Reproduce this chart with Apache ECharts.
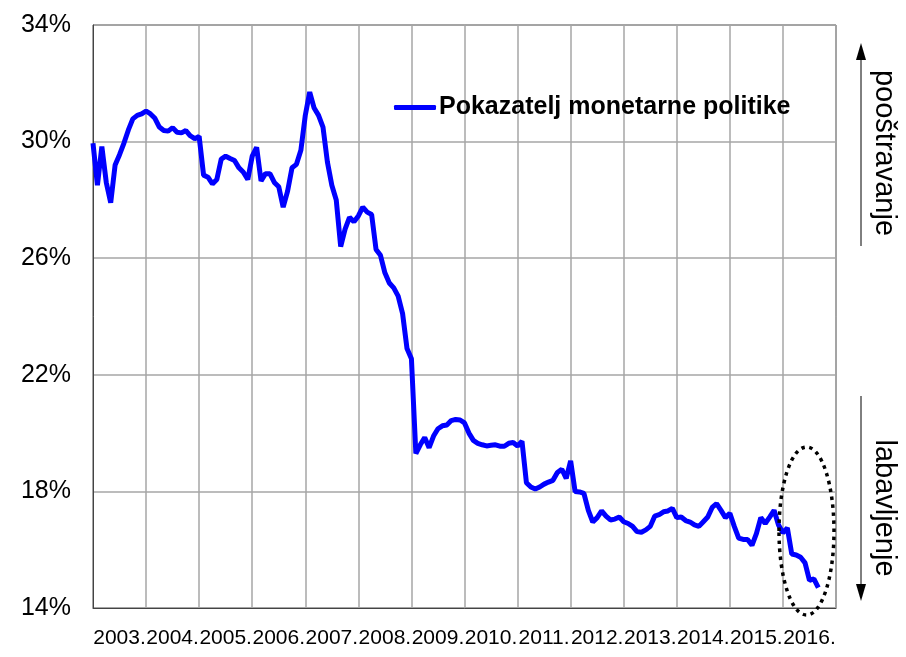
<!DOCTYPE html>
<html>
<head>
<meta charset="utf-8">
<script src="https://cdn.jsdelivr.net/npm/echarts@6/dist/echarts.min.js"></script>
<style>html,body{margin:0;padding:0;background:#fff;}#c{width:906px;height:657px;}</style>
</head>
<body>
<div id="c"></div>
<script>
var years = ['2003.','2004.','2005.','2006.','2007.','2008.','2009.','2010.','2011.','2012.','2013.','2014.','2015.','2016.'];
var yTicks = [14, 18, 22, 26, 30, 34];
var seriesName = 'Pokazatelj monetarne politike';
// monthly values from Jan 2003 (percent)
var values = [
29.94,28.5,29.83,28.6,27.9,29.2,29.55,29.95,30.4,30.78,30.9,30.95,
31.05,30.95,30.8,30.5,30.38,30.36,30.48,30.32,30.3,30.38,30.2,30.1,
30.18,28.85,28.78,28.55,28.7,29.4,29.5,29.42,29.35,29.1,28.95,28.7,
29.5,29.8,28.65,28.9,28.9,28.6,28.45,27.75,28.3,29.1,29.22,29.7,
30.9,31.7,31.15,30.9,30.5,29.3,28.5,28.0,26.4,27.0,27.4,27.25,
27.45,27.75,27.58,27.5,26.3,26.1,25.5,25.15,24.98,24.7,24.1,22.9,
22.55,19.3,19.6,19.85,19.5,19.9,20.15,20.25,20.28,20.43,20.47,20.45,
20.35,20.0,19.75,19.65,19.6,19.56,19.58,19.6,19.55,19.55,19.65,19.68,
19.56,19.72,18.3,18.15,18.08,18.15,18.25,18.32,18.38,18.65,18.76,18.45,
19.05,18.0,17.98,17.93,17.35,16.95,17.1,17.33,17.15,17.02,17.05,17.12,
16.96,16.9,16.8,16.62,16.6,16.68,16.8,17.15,17.2,17.3,17.33,17.42,
17.1,17.12,17.0,16.95,16.85,16.8,16.96,17.12,17.45,17.58,17.35,17.1,
17.25,16.8,16.4,16.35,16.35,16.15,16.55,17.1,16.9,17.12,17.35,16.85,
16.58,16.75,15.85,15.82,15.74,15.55,14.95,15.0,14.7
];
var monthsTotal = years.length * 12;
var lineData = values.map(function(v, i){ return [i, v]; });

var FONT = '"Liberation Sans",Arial,sans-serif';
var chart = echarts.init(document.getElementById('c'), null, {renderer:'canvas'});
chart.setOption({
  animation: false,
  backgroundColor: '#fff',
  grid: {left: 93, right: 70, top: 25, bottom: 49, show: true, borderColor: '#444', borderWidth: 1, backgroundColor: 'transparent'},
  legend: {
    left: 389, top: 90,
    itemWidth: 42, itemHeight: 5, itemGap: 5,
    textStyle: {fontFamily: FONT, fontWeight: 'bold', fontSize: 25, color: '#000', padding: [0,0,0,-2]},
    data: [{name: seriesName, icon: 'roundRect'}]
  },
  xAxis: [{
    type: 'category', data: years, boundaryGap: true,
    axisTick: {show: false},
    axisLine: {lineStyle: {color: '#444', width: 1}},
    axisLabel: {interval: 0, fontFamily: FONT, fontSize: 21, color: '#000', margin: 20},
    splitLine: {show: true, interval: 0, lineStyle: {color: '#a6a6a6', width: 1.5}}
  }, {
    type: 'value', min: 0, max: monthsTotal, show: false
  }],
  yAxis: {
    type: 'value', min: yTicks[0], max: yTicks[yTicks.length-1], interval: yTicks[1]-yTicks[0],
    axisLine: {show: true, lineStyle: {color: '#444', width: 1}},
    axisTick: {show: false},
    axisLabel: {formatter: '{value}%', fontFamily: FONT, fontSize: 25, color: '#000', margin: 22},
    splitLine: {show: true, lineStyle: {color: '#a6a6a6', width: 1.5}}
  },
  series: [{
    name: seriesName, type: 'line', xAxisIndex: 1, data: lineData,
    showSymbol: false, symbol: 'none',
    lineStyle: {color: '#0000ff', width: 5},
    itemStyle: {color: '#0000ff'},
    z: 5
  }],
  graphic: [
    {type: 'ellipse', shape: {cx: 806.5, cy: 531, rx: 27.5, ry: 84}, style: {fill: 'none', stroke: '#000', lineWidth: 3.5, lineDash: [3.5, 4.5]}, z: 10},
    {type: 'line', shape: {x1: 861, y1: 58, x2: 861, y2: 246}, style: {stroke: '#000', lineWidth: 1}},
    {type: 'polygon', shape: {points: [[861, 43], [856, 60], [866, 60]]}, style: {fill: '#000'}},
    {type: 'line', shape: {x1: 861, y1: 396, x2: 861, y2: 585}, style: {stroke: '#000', lineWidth: 1}},
    {type: 'polygon', shape: {points: [[861, 601], [856, 584], [866, 584]]}, style: {fill: '#000'}},
    {type: 'text', x: 884, y: 153, rotation: -Math.PI/2, style: {text: 'pooštravanje', font: '29px "Liberation Sans", Arial, sans-serif', fill: '#000', textAlign: 'center', textVerticalAlign: 'middle'}},
    {type: 'text', x: 884, y: 508, rotation: -Math.PI/2, style: {text: 'labavljenje', font: '29px "Liberation Sans", Arial, sans-serif', fill: '#000', textAlign: 'center', textVerticalAlign: 'middle'}}
  ]
});
</script>
</body>
</html>
